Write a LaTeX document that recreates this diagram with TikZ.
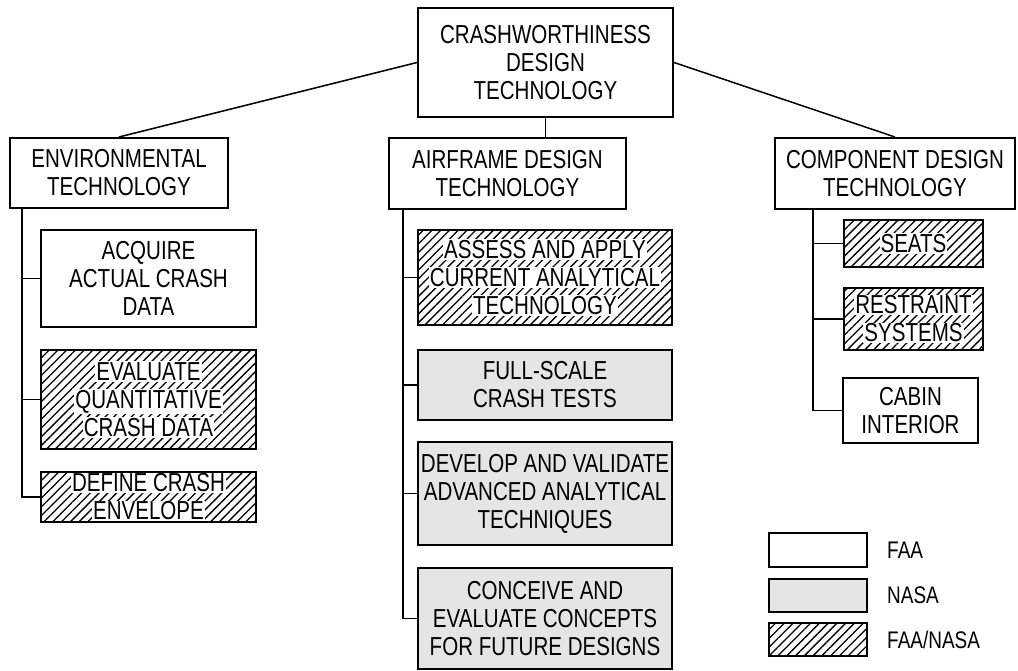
\documentclass[tikz,border=0pt]{standalone}
\usepackage{fontspec}
\setmainfont[FakeStretch=0.79]{Liberation Sans}
\usetikzlibrary{patterns.meta}
\newcommand{\wb}[1]{{\setlength{\fboxsep}{1pt}\colorbox{white}{#1}}}

\begin{document}
\begin{tikzpicture}[x=1pt,y=-1pt]
	\tikzset{every node/.style={font=\fontsize{26}{28}\selectfont,align=center,inner sep=0pt}}
	\tikzset{box/.style={draw,line width=2pt}}
	\tikzset{nasa/.style={box,fill=black!10}}
	\tikzset{both/.style={box,pattern={Lines[angle=45,distance=6.2pt,line width=1.3pt]}}}
	\tikzset{wire/.style={line width=1.5pt}}
	\tikzset{legtext/.style={anchor=west,font=\fontsize{24}{26}\selectfont}}
	\useasboundingbox (0,0) rectangle (1018,671);
	% top level
	\node[box,minimum width=255pt,minimum height=109pt] (crash) at (545.5,62.5) {CRASHWORTHINESS\\DESIGN\\TECHNOLOGY};
	\node[box,minimum width=218pt,minimum height=70pt] (env) at (119,173) {ENVIRONMENTAL\\TECHNOLOGY};
	\node[box,minimum width=237pt,minimum height=71pt] (air) at (507.5,173.5) {AIRFRAME DESIGN\\TECHNOLOGY};
	\node[box,minimum width=240pt,minimum height=71pt] (comp) at (895,173.5) {COMPONENT DESIGN\\TECHNOLOGY};
	\draw[wire] (crash.west) -- (env.north);
	\draw[wire] (crash.east) -- (comp.north);
	\draw[wire] (crash.south) -- (crash.south |- air.north);
	% environmental
	\node[box,minimum width=215pt,minimum height=97pt] (acq) at (148.5,278.5) {ACQUIRE\\ACTUAL CRASH\\DATA};
	\node[both,minimum width=215pt,minimum height=99pt] (evalq) at (148.5,399.5) {\wb{EVALUATE}\\\wb{QUANTITATIVE}\\\wb{CRASH DATA}};
	\node[both,minimum width=215pt,minimum height=50pt] (defenv) at (148.5,497) {\wb{DEFINE CRASH}\\\wb{ENVELOPE}};
	\coordinate (envs) at (22,208);
	\draw[wire] (envs) |- (defenv.west);
	\draw[wire] (envs |- acq.west) -- (acq.west);
	\draw[wire] (envs |- evalq.west) -- (evalq.west);
	% airframe
	\node[both,minimum width=254pt,minimum height=95pt] (assess) at (545,277.5) {\wb{ASSESS AND APPLY}\\\wb{CURRENT ANALYTICAL}\\\wb{TECHNOLOGY}};
	\node[nasa,minimum width=254pt,minimum height=70pt] (full) at (545,385) {FULL-SCALE\\CRASH TESTS};
	\node[nasa,minimum width=254pt,minimum height=103pt] (devel) at (545,493.5) {DEVELOP AND VALIDATE\\ADVANCED ANALYTICAL\\TECHNIQUES};
	\node[nasa,minimum width=254pt,minimum height=101pt] (conc) at (545,618.5) {CONCEIVE AND\\EVALUATE CONCEPTS\\FOR FUTURE DESIGNS};
	\coordinate (airs) at (403,209);
	\draw[wire] (airs) |- (conc.west);
	\draw[wire] (airs |- assess.west) -- (assess.west);
	\draw[wire] (airs |- full.west) -- (full.west);
	\draw[wire] (airs |- devel.west) -- (devel.west);
	% component
	\node[both,minimum width=139pt,minimum height=47pt] (seats) at (913.5,243.5) {\wb{SEATS}};
	\node[both,minimum width=139pt,minimum height=62pt] (restr) at (913.5,319) {\wb{RESTRAINT}\\\wb{SYSTEMS}};
	\node[box,minimum width=135pt,minimum height=65pt] (cabin) at (910.5,410.5) {CABIN\\INTERIOR};
	\coordinate (comps) at (813,209);
	\draw[wire] (comps) |- (cabin.west);
	\draw[wire] (comps |- seats.west) -- (seats.west);
	\draw[wire] (comps |- restr.west) -- (restr.west);
	% legend
	\node[box,minimum width=98pt,minimum height=34pt] (lfaa) at (818,550) {};
	\node[nasa,minimum width=98pt,minimum height=33pt] (lnasa) at (818,595.5) {};
	\node[both,minimum width=98pt,minimum height=33pt] (lboth) at (818,639.5) {};
	\node[legtext] (tfaa) at (887,550) {FAA};
	\node[legtext] (tnasa) at (887,595.5) {NASA};
	\node[legtext] (tboth) at (887,639.5) {FAA/NASA};
\end{tikzpicture}
\end{document}
